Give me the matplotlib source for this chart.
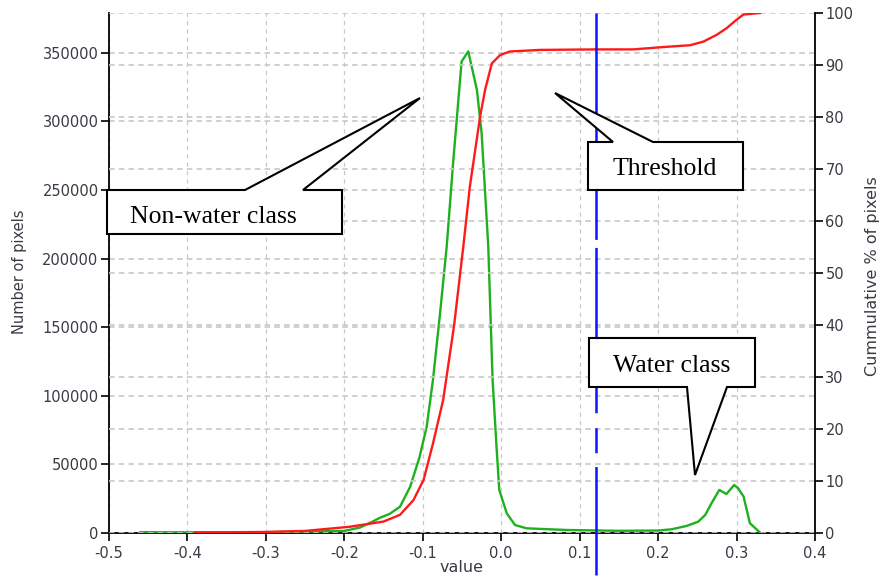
"""
Histogram of pixel values with cumulative percentage and water threshold.
"""

import matplotlib as mpl
import matplotlib.pyplot as plt
from matplotlib.patches import Polygon

mpl.rcParams.update(
    {
        "font.family": "DejaVu Sans",
        "axes.unicode_minus": False,
        "lines.scale_dashes": False,
    }
)

W, H = 881, 579

# histogram of pixel values (green, left axis)
hist_value = [-0.46, -0.40, -0.30, -0.20, -0.18, -0.165, -0.155, -0.142, -0.129,
              -0.116, -0.104, -0.095, -0.087, -0.078, -0.0695, -0.061, -0.0505,
              -0.042, -0.031, -0.025, -0.0165, -0.011, -0.006, -0.0025, 0.007,
              0.0176, 0.0325, 0.083, 0.15, 0.20, 0.217, 0.236, 0.251, 0.260,
              0.268, 0.278, 0.287, 0.297, 0.302, 0.309, 0.317, 0.330]
hist_count = [600, 500, 600, 1500, 4000, 8000, 11000, 14000, 19200,
              33800, 55600, 77500, 111600, 160000, 208800, 272000, 343700,
              351000, 323000, 291500, 208800, 111600, 62900, 31400, 14400,
              5800, 3400, 2200, 1600, 1800, 2700, 5100, 8200, 13100,
              21600, 31400, 28400, 35000, 32600, 26500, 7100, 300]

# cumulative percentage of pixels (red, right axis)
cum_value = [-0.39, -0.30, -0.25, -0.193, -0.150, -0.129, -0.112, -0.099, -0.087,
             -0.074, -0.06, -0.0484, -0.040, -0.027, -0.0206, -0.012, -0.0015,
             0.011, 0.0495, 0.1217, 0.168, 0.211, 0.2407, 0.2577, 0.2747,
             0.2875, 0.300, 0.3087, 0.330]
cum_pct = [0.1, 0.2, 0.4, 1.2, 2.2, 3.5, 6.3, 10.2, 17.2,
           25.6, 40.0, 55.0, 66.6, 80.0, 85.2, 90.3, 91.9,
           92.6, 92.9, 93.0, 93.0, 93.5, 93.8, 94.5, 95.8,
           97.1, 98.7, 99.7, 100.0]

threshold = 0.121

x_ticks = [-0.5, -0.4, -0.3, -0.2, -0.1, 0.0, 0.1, 0.2, 0.3, 0.4]
count_ticks = [0, 50000, 100000, 150000, 200000, 250000, 300000, 350000]
pct_ticks = [0, 10, 20, 30, 40, 50, 60, 70, 80, 90, 100]

TICK_COLOR = "#3a3a44"
GRID_COLOR = "#c8c8c8"

fig = plt.figure(figsize=(W / 100, H / 100), dpi=100)
ax = fig.add_axes([109 / W, (H - 533) / H, (815 - 109) / W, (533 - 13) / H])
ax2 = ax.twinx()

ax.plot(hist_value, hist_count, color="#1fb01f", lw=1.7, zorder=3)
ax2.plot(cum_value, cum_pct, color="#ff1a1a", lw=1.7, zorder=3)

# threshold line, runs below the axis
ax2.axvline(threshold, ymin=1.0, ymax=-0.081, color="#0a14ff", lw=1.8,
            clip_on=False, zorder=4,
            dashes=(163, 5.8, 119, 10.8, 18, 10, 80, 20))

ax.set_xlim(-0.5, 0.4)
ax.set_ylim(0, 379000)
ax2.set_ylim(0, 100)

ax.set_xticks(x_ticks)
ax.set_xticklabels([f"{v:.1f}" for v in x_ticks])
ax.set_yticks(count_ticks)
ax.set_yticklabels([str(v) for v in count_ticks])
ax2.set_yticks(pct_ticks)

for a in (ax, ax2):
    a.tick_params(length=6, width=1.2, colors="black", labelcolor=TICK_COLOR,
                  labelsize=10.5, pad=1.5)
ax.tick_params(axis="x", pad=3)
ax2.tick_params(axis="y", pad=1.5)

ax.grid(axis="x", color=GRID_COLOR, lw=0.9, dashes=(3, 3))
ax.grid(axis="y", color=GRID_COLOR, lw=1.2, dashes=(4, 3))
ax2.grid(axis="y", color=GRID_COLOR, lw=1.2, dashes=(4, 3))
ax.set_axisbelow(True)
ax2.set_axisbelow(True)

ax.spines["top"].set_visible(False)
ax.spines["right"].set_visible(False)
for s in ("top", "left", "bottom"):
    ax2.spines[s].set_visible(False)
for a, s in ((ax, "left"), (ax, "bottom"), (ax2, "right")):
    a.spines[s].set_linewidth(1.3)

ax.set_xlabel("value", fontsize=11.5, color=TICK_COLOR, labelpad=0)
fig.text(20 / W, 1 - 272 / H, "Number of pixels", rotation=90, fontsize=10.5,
         color=TICK_COLOR, ha="center", va="center")
fig.text(872 / W, 1 - 276 / H, "Cummulative % of pixels", rotation=90,
         fontsize=11.5, color=TICK_COLOR, ha="center", va="center")


# speech-bubble callouts, in figure pixels
def px(points):
    return [(x / W, 1 - y / H) for x, y in points]


callouts = [
    ("Non-water class", (213, 223),
     [(107, 190), (245, 190), (420, 98), (303, 190), (342, 190), (342, 234), (107, 234)]),
    ("Threshold", (665, 175),
     [(588, 142), (613, 142), (555, 93), (653, 142), (743, 142), (743, 190), (588, 190)]),
    ("Water class", (672, 372),
     [(589, 338), (755, 338), (755, 387), (727, 387), (695, 475), (687, 387), (589, 387)]),
]
for label, (tx, ty), shape in callouts:
    ax2.add_patch(Polygon(px(shape), closed=True, facecolor="white", edgecolor="black",
                          lw=1.5, joinstyle="miter", transform=fig.transFigure,
                          clip_on=False, zorder=10))
    ax2.text(tx / W, 1 - ty / H, label, transform=fig.transFigure, ha="center",
             va="baseline", fontsize=18.5, family="Liberation Serif", zorder=11)

fig.savefig("out.png", dpi=100)
